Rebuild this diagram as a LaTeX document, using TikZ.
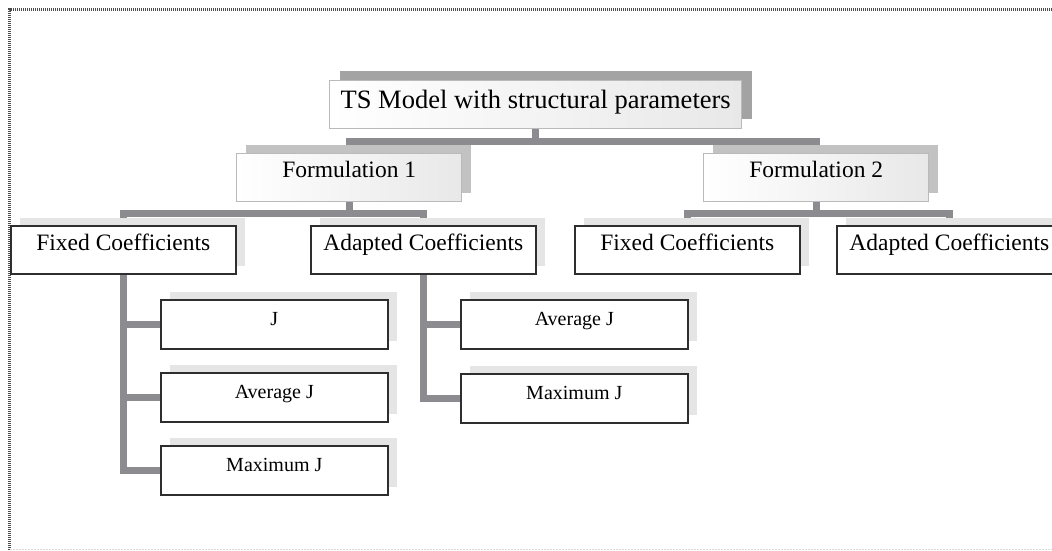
\documentclass[tikz,border=0pt]{standalone}
\usepackage{fontspec}
\setmainfont{Liberation Serif}
\usetikzlibrary{calc,shadows,backgrounds}
\definecolor{linkgray}{HTML}{8C8C90}
\definecolor{boxedge}{HTML}{2E2E2E}

\begin{document}
\begin{tikzpicture}[x=1pt,y=-1pt,
	link/.style={draw=linkgray,line width=7pt},
	plain/.style={draw=boxedge,line width=1.6pt,fill=white,anchor=north west,inner xsep=0pt,inner ysep=0pt},
	topbox/.style={draw=black!27,line width=1.4pt,left color=white,right color=black!9,anchor=north west,inner xsep=0pt,inner ysep=0pt},
	tsbox/.style={topbox,minimum width=412pt,text height=28pt,text depth=20pt,font=\fontsize{26.5}{30}\selectfont,
		drop shadow={shadow xshift=10pt,shadow yshift=10pt,fill=black!36,opacity=1}},
	formbox/.style={topbox,minimum width=225pt,text height=24pt,text depth=24pt,font=\fontsize{23.5}{27}\selectfont,
		drop shadow={shadow xshift=9pt,shadow yshift=9pt,fill=black!24,opacity=1}},
	coefbox/.style={plain,minimum width=225pt,text height=25pt,text depth=23pt,font=\fontsize{23.5}{27}\selectfont,
		drop shadow={shadow xshift=9pt,shadow yshift=8pt,fill=black!10,opacity=1}},
	leafbox/.style={plain,minimum width=227pt,text height=26pt,text depth=23pt,font=\fontsize{20}{24}\selectfont,
		drop shadow={shadow xshift=9pt,shadow yshift=8pt,fill=black!10,opacity=1}}]
		\useasboundingbox (0,0) rectangle (1052,551);
		\clip (0,0) rectangle (1052,551);
		% frame
		\draw [black!70,line width=3pt,dash pattern=on 1.2pt off 0.8pt] (1060,9.5) -- (9.5,9.5) -- (9.5,549.5);
		\draw [black!15,line width=1pt,dash pattern=on 2pt off 1pt] (9.5,549.5) -- (1060,549.5);
		% boxes
		\node [tsbox] (ts) at (329,80) {TS Model with structural parameters};
		\node [formbox] (form1) at (236,153) {Formulation 1};
		\node [formbox] (form2) at (703,153) {Formulation 2};
		\node [coefbox] (fix1) at (10,225) {Fixed Coefficients};
		\node [coefbox] (adp1) at (310,225) {Adapted Coefficients};
		\node [coefbox] (fix2) at (574,225) {Fixed Coefficients};
		\node [coefbox] (adp2) at (836,225) {Adapted Coefficients};
		\node [leafbox] (j1) at (160,299) {J};
		\node [leafbox] (avg1) at (160,372) {Average J};
		\node [leafbox] (max1) at (160,445) {Maximum J};
		\node [leafbox] (avg2) at (460,299) {Average J};
		\node [leafbox] (max2) at (460,373) {Maximum J};
		% connectors
		\begin{pgfonlayer}{background}
		\draw [link] (ts.south) -- ++(0,12) -| (form1.north);
		\draw [link] (ts.south) -- ++(0,12) -| (form2.north);
		\draw [link] (form1.south) -- ++(0,11) -| (fix1.north);
		\draw [link] (form1.south) -- ++(0,11) -| (adp1.north);
		\draw [link] (form2.south) -- ++(0,11) -| (fix2.north);
		\draw [link] (form2.south) -- ++(0,11) -| (adp2.north);
		\draw [link] (fix1.south) |- (j1.west);
		\draw [link] (fix1.south) |- (avg1.west);
		\draw [link] (fix1.south) |- (max1.west);
		\draw [link] (adp1.south) |- (avg2.west);
		\draw [link] (adp1.south) |- (max2.west);
		\end{pgfonlayer}
		\end{tikzpicture}
\end{document}
